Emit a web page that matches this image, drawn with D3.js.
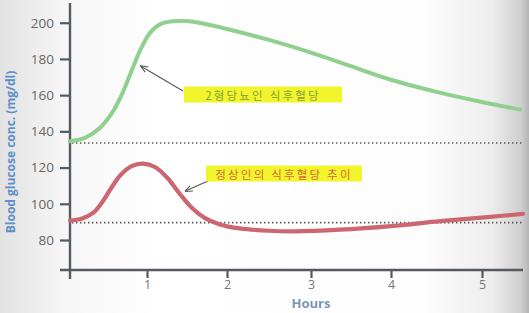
<!DOCTYPE html>
<html><head><meta charset="utf-8">
<script src="https://cdn.jsdelivr.net/npm/d3@7"></script>
<style>html,body{margin:0;padding:0;overflow:hidden;background:#fff}</style>
</head><body>
<svg id="c" width="529" height="313"></svg>
<script>
// ---- data ----
const yTicks = [80, 100, 120, 140, 160, 180, 200];
const xTicks = [1, 2, 3, 4, 5];
const diabHours  = [0, 0.2, 0.39, 0.55, 0.68, 0.8, 0.92, 1.04, 1.18, 1.4, 1.65, 2.0, 2.5, 3.0, 3.5, 4.0, 4.5, 5.0, 5.42];
const diabValues = [134.5, 136.5, 142, 150.5, 161, 173.5, 185.5, 194.5, 199.5, 201, 200, 196.5, 190.5, 183.5, 176, 168.5, 161.8, 156.2, 152];
const normHours  = [0, 0.15, 0.3, 0.42, 0.54, 0.66, 0.8, 0.95, 1.1, 1.25, 1.41, 1.56, 1.72, 1.91, 2.15, 2.5, 2.8, 3.36, 4.0, 4.54, 5.09, 5.45];
const normValues = [90.8, 91.8, 95, 101, 109, 116, 120.8, 122.2, 120.3, 114.5, 105.5, 97.8, 92.2, 88.6, 86.4, 85.1, 84.8, 85.7, 87.7, 90.4, 92.8, 94.4];
const baselines = [133.6, 89.6];
const labelDiab = "2형당뇨인 식후혈당";
const labelNorm = "정상인의 식후혈당 추이";
const yTitle = "Blood glucose conc. (mg/dl)";
const xTitle = "Hours";

// ---- layout ----
const svg = d3.select("#c");
const defs = svg.append("defs");
const bg = defs.append("linearGradient").attr("id","bg").attr("x1","0").attr("x2","1").attr("y1","0").attr("y2","0");
[[0,"#e2e2e2"],[0.12,"#f6f6f6"],[0.3,"#ffffff"],[0.8,"#fdfdfd"],[0.93,"#ededed"],[0.985,"#cfcfcf"],[1,"#b5b5b5"]]
  .forEach(([o,c])=>bg.append("stop").attr("offset",o).attr("stop-color",c));
svg.append("rect").attr("width",529).attr("height",313).attr("fill","url(#bg)");

const x = d3.scaleLinear().domain([0,1,2,3,4,5]).range([70,147,227,311,391,482]);
const y = d3.scaleLinear().domain([80,200]).range([240,22.7]);

const font = "'Open Sans', 'DejaVu Sans', sans-serif";
const axisCol = "#555a60";

// baselines (dotted)
svg.selectAll(".base").data(baselines).enter().append("line")
  .attr("x1", x(0)+2).attr("x2", 523)
  .attr("y1", d=>y(d)).attr("y2", d=>y(d))
  .attr("stroke","#555").attr("stroke-width",1.6).attr("stroke-dasharray","1.4,2.6");

// axes
const yAxis = d3.axisLeft(y).tickValues(yTicks).tickSize(10).tickPadding(6).tickFormat(d3.format("d"));
const gy = svg.append("g").attr("transform",`translate(${x(0)},0)`).call(yAxis);
gy.select(".domain").remove();
gy.selectAll(".tick line").attr("stroke",axisCol).attr("stroke-width",2.2);
gy.selectAll(".tick text").attr("fill","#666").style("font-family",font).style("font-size","13.5px");

const xAxis = d3.axisBottom(x).tickValues(xTicks).tickSize(8).tickPadding(2).tickFormat(d3.format("d"));
const gx = svg.append("g").attr("transform",`translate(0,270)`).call(xAxis);
gx.select(".domain").remove();
gx.selectAll(".tick line").attr("stroke",axisCol).attr("stroke-width",2.2);
gx.selectAll(".tick text").attr("fill","#777").style("font-family",font).style("font-size","12.5px");

svg.append("line").attr("x1",60).attr("x2",523).attr("y1",270).attr("y2",270)
  .attr("stroke",axisCol).attr("stroke-width",2.4);
svg.append("line").attr("x1",x(0)).attr("x2",x(0)).attr("y1",3).attr("y2",279)
  .attr("stroke",axisCol).attr("stroke-width",2.4);

// curves
const line = d3.line().x(d=>x(d[0])).y(d=>y(d[1])).curve(d3.curveCatmullRom.alpha(0.5));
svg.append("path").datum(diabHours.map((h,i)=>[h,diabValues[i]]))
  .attr("d",line).attr("fill","none").attr("stroke","#8fd08f").attr("stroke-width",4).attr("stroke-linecap","round");
svg.append("path").datum(normHours.map((h,i)=>[h,normValues[i]]))
  .attr("d",line).attr("fill","none").attr("stroke","#cc6670").attr("stroke-width",4.2).attr("stroke-linecap","round");

// arrows
const mk = defs.append("marker").attr("id","ah").attr("viewBox","0 0 10 10").attr("refX",9).attr("refY",5)
  .attr("markerWidth",7).attr("markerHeight",7).attr("orient","auto");
mk.append("path").attr("d","M0,1 L10,5 L0,9").attr("fill","none").attr("stroke","#555").attr("stroke-width",1.3);
svg.append("line").attr("x1",183).attr("y1",91).attr("x2",x(0.87)+4).attr("y2",y(176))
  .attr("stroke","#555").attr("stroke-width",1.1).attr("marker-end","url(#ah)");
svg.append("line").attr("x1",208).attr("y1",181).attr("x2",x(1.48)).attr("y2",y(107))
  .attr("stroke","#555").attr("stroke-width",1.1).attr("marker-end","url(#ah)");

// labels with yellow highlight
function hl(text, cx, cy, w, col){
  svg.append("rect").attr("x",cx-w/2).attr("y",cy-8.5).attr("width",w).attr("height",16).attr("fill","#f2f52c");
  svg.append("text").attr("x",cx).attr("y",cy).attr("text-anchor","middle").attr("dominant-baseline","central")
    .attr("fill",col).style("font-family","'Noto Sans CJK KR', sans-serif").style("font-size","11.5px")
    .style("letter-spacing","2.2px").text(text);
}
hl(labelDiab, 263, 95, 158, "#7ea23a");
hl(labelNorm, 284, 174, 156, "#d26a3c");

// titles
svg.append("text").attr("transform","translate(15,152) rotate(-90)").attr("text-anchor","middle")
  .attr("fill","#5e8ecb").style("font-family",font).style("font-weight","bold").style("font-size","12px").text(yTitle);
svg.append("text").attr("x",311).attr("y",308).attr("text-anchor","middle")
  .attr("fill","#7896b6").style("font-family",font).style("font-weight","bold").style("font-size","13px").text(xTitle);
</script>
</body></html>
